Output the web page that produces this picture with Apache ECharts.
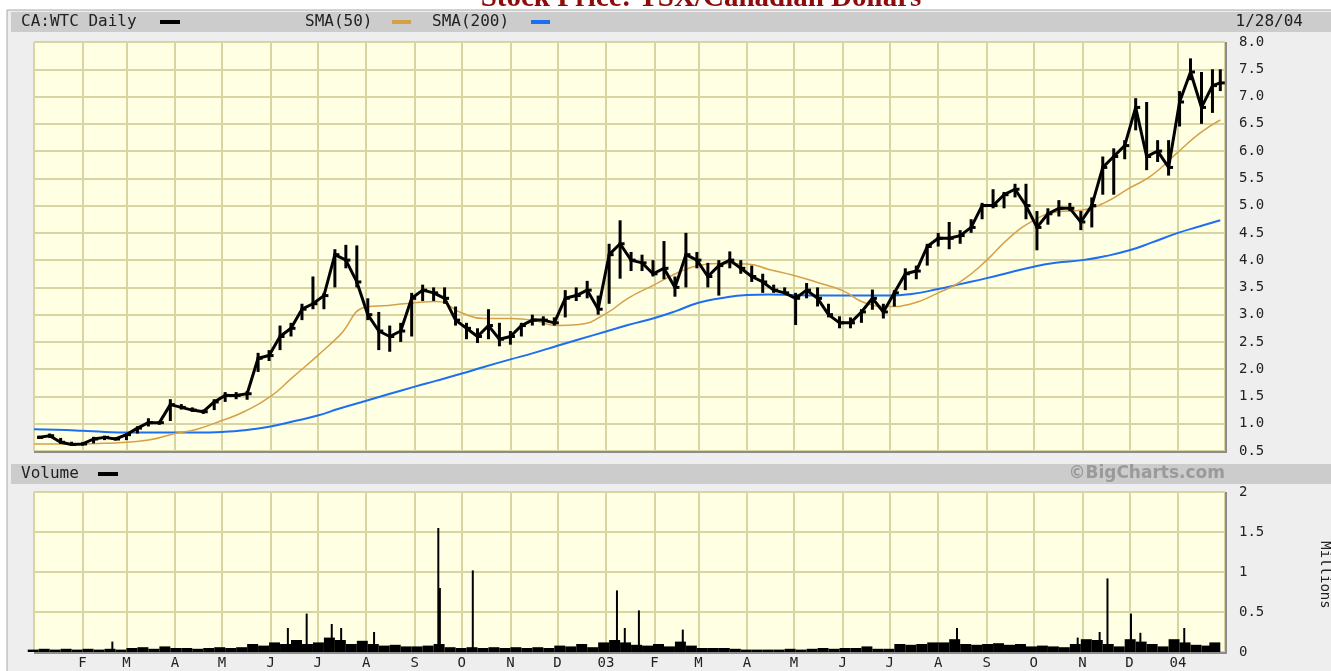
<!DOCTYPE html>
<html>
<head>
<meta charset="UTF-8">
<title>CA:WTC Daily</title>
<script src="https://cdn.jsdelivr.net/npm/echarts@6/dist/echarts.min.js"></script>
<style>
html, body { margin: 0; padding: 0; background: #fff; }
#main { width: 1331px; height: 671px; }
</style>
</head>
<body>
<div id="main"></div>
<script type="text/javascript">
// weekly price bars (week ending Fridays from 2002-01-04, last one is the part week to 1/28/04)
var firstWeek = [2002, 0, 4];
var lastDay = [2004, 0, 28];
var weekHigh = [
  0.78, 0.82, 0.74, 0.67, 0.66, 0.76, 0.78, 0.75, 0.82, 0.95, 1.10, 1.05, 1.45,
  1.36, 1.30, 1.26, 1.45, 1.58, 1.58, 1.60, 2.30, 2.35, 2.80, 2.85, 3.20, 3.70,
  3.40, 4.20, 4.28, 4.27, 3.30, 3.05, 2.80, 2.85, 3.40, 3.55, 3.50, 3.50, 3.15,
  2.85, 2.75, 3.10, 2.85, 2.70, 2.85, 3.00, 2.97, 2.95, 3.45, 3.50, 3.62, 3.35,
  4.30, 4.73, 4.15, 4.10, 4.00, 4.35, 3.70, 4.50, 4.15, 3.95, 4.00, 4.16, 4.00,
  3.90, 3.75, 3.55, 3.50, 3.40, 3.58, 3.50, 3.20, 2.97, 2.95, 3.10, 3.46, 3.20,
  3.45, 3.85, 3.90, 4.30, 4.50, 4.70, 4.55, 4.75, 5.05, 5.30, 5.25, 5.40, 5.40,
  4.90, 4.95, 5.10, 5.05, 4.90, 5.15, 5.90, 6.05, 6.20, 6.97, 6.90, 6.20, 6.20,
  7.10, 7.70, 7.45, 7.50, 7.50
];
var weekLow = [
  0.72, 0.74, 0.64, 0.60, 0.60, 0.64, 0.70, 0.70, 0.70, 0.82, 0.95, 0.98, 1.05,
  1.26, 1.22, 1.18, 1.25, 1.40, 1.45, 1.44, 1.95, 2.15, 2.35, 2.60, 2.90, 3.10,
  3.10, 3.50, 3.85, 3.50, 2.90, 2.35, 2.32, 2.50, 2.60, 3.25, 3.25, 3.20, 2.80,
  2.55, 2.48, 2.55, 2.42, 2.45, 2.60, 2.80, 2.80, 2.80, 2.95, 3.25, 3.30, 3.00,
  3.20, 3.66, 3.80, 3.80, 3.70, 3.65, 3.33, 3.50, 3.85, 3.50, 3.35, 3.85, 3.75,
  3.60, 3.40, 3.40, 3.38, 2.81, 3.30, 3.15, 2.95, 2.75, 2.75, 2.85, 3.09, 2.93,
  3.15, 3.45, 3.65, 3.90, 4.25, 4.20, 4.30, 4.50, 4.75, 4.95, 4.95, 5.15, 4.75,
  4.18, 4.65, 4.80, 4.90, 4.55, 4.60, 5.20, 5.20, 5.85, 6.38, 5.65, 5.80, 5.55,
  6.45, 7.30, 6.50, 6.70, 7.10
];
var weekClose = [
  0.75, 0.78, 0.66, 0.62, 0.63, 0.72, 0.75, 0.72, 0.80, 0.92, 1.02, 1.02, 1.35,
  1.30, 1.25, 1.22, 1.40, 1.52, 1.52, 1.55, 2.20, 2.25, 2.60, 2.75, 3.10, 3.20,
  3.35, 4.10, 4.00, 3.60, 3.00, 2.70, 2.60, 2.70, 3.30, 3.45, 3.40, 3.30, 2.90,
  2.75, 2.60, 2.80, 2.55, 2.60, 2.80, 2.90, 2.90, 2.85, 3.30, 3.35, 3.45, 3.10,
  4.10, 4.30, 4.00, 3.95, 3.75, 3.85, 3.50, 4.10, 4.00, 3.70, 3.90, 4.00, 3.85,
  3.70, 3.60, 3.45, 3.40, 3.30, 3.45, 3.30, 3.00, 2.85, 2.85, 3.05, 3.30, 3.05,
  3.40, 3.75, 3.80, 4.25, 4.40, 4.40, 4.45, 4.60, 5.00, 5.00, 5.20, 5.30, 5.00,
  4.60, 4.85, 4.95, 4.95, 4.70, 5.00, 5.70, 5.90, 6.10, 6.80, 5.90, 6.00, 5.70,
  6.90, 7.45, 6.80, 7.20, 7.25
];
// typical daily volume within each week, millions
var weekVolume = [
  0.03, 0.04, 0.03, 0.04, 0.03, 0.04, 0.03, 0.04, 0.03, 0.05, 0.06, 0.04, 0.07,
  0.05, 0.05, 0.04, 0.05, 0.06, 0.05, 0.06, 0.10, 0.08, 0.12, 0.10, 0.15, 0.10,
  0.12, 0.18, 0.15, 0.10, 0.14, 0.10, 0.08, 0.09, 0.07, 0.07, 0.08, 0.10, 0.06,
  0.05, 0.06, 0.05, 0.06, 0.05, 0.06, 0.05, 0.06, 0.05, 0.08, 0.07, 0.10, 0.06,
  0.12, 0.15, 0.12, 0.09, 0.08, 0.10, 0.07, 0.13, 0.08, 0.05, 0.05, 0.05, 0.04,
  0.03, 0.03, 0.03, 0.03, 0.04, 0.03, 0.04, 0.05, 0.04, 0.05, 0.05, 0.07, 0.04,
  0.04, 0.10, 0.09, 0.10, 0.12, 0.12, 0.16, 0.10, 0.09, 0.10, 0.11, 0.09, 0.10,
  0.07, 0.08, 0.07, 0.06, 0.10, 0.16, 0.15, 0.10, 0.07, 0.16, 0.13, 0.10, 0.07,
  0.16, 0.12, 0.09, 0.08, 0.12
];
// single heavy days
var spikeDates = [
  '2002-02-20', '2002-06-12', '2002-06-24', '2002-07-10', '2002-07-16', '2002-08-06',
  '2002-09-16', '2002-09-17', '2002-10-08', '2003-01-08', '2003-01-13', '2003-01-22',
  '2003-02-19', '2003-08-13', '2003-10-29', '2003-11-12', '2003-11-17', '2003-12-02',
  '2003-12-08', '2004-01-05'
];
var spikeVolume = [
  0.13, 0.30, 0.48, 0.35, 0.30, 0.25,
  1.55, 0.80, 1.02, 0.77, 0.30, 0.52,
  0.28, 0.30, 0.18, 0.25, 0.92, 0.48,
  0.24, 0.30
];
// moving averages sampled on the 1st and 15th of each month, then 1/28/04
var sma50 = [
  0.63, 0.63, 0.63, 0.64, 0.66, 0.70, 0.82, 0.90, 1.06, 1.22, 1.50, 1.85,
  2.25, 2.62, 3.14, 3.17, 3.22, 3.24, 3.03, 2.93, 2.93, 2.90, 2.80, 2.82,
  3.02, 3.30, 3.55, 3.76, 3.90, 3.94, 3.93, 3.83, 3.72, 3.60, 3.44, 3.22,
  3.15, 3.20, 3.40, 3.60, 4.00, 4.40, 4.73, 4.88, 4.92, 5.05, 5.32, 5.55,
  5.98, 6.33, 6.57
];
var sma200 = [
  0.90, 0.89, 0.87, 0.85, 0.84, 0.84, 0.84, 0.84, 0.85, 0.88, 0.95, 1.04,
  1.15, 1.28, 1.42, 1.54, 1.68, 1.79, 1.92, 2.04, 2.18, 2.29, 2.43, 2.55,
  2.69, 2.81, 2.94, 3.07, 3.22, 3.30, 3.36, 3.37, 3.36, 3.35, 3.35, 3.35,
  3.35, 3.38, 3.47, 3.56, 3.67, 3.77, 3.88, 3.95, 4.00, 4.07, 4.18, 4.32,
  4.50, 4.62, 4.73
];
var monthLetters = ['J', 'F', 'M', 'A', 'M', 'J', 'J', 'A', 'S', 'O', 'N', 'D'];
var yearLabels = {2003: '03', 2004: '04'};

var DAY = 86400000;
var weekDates = [];
for (var i = 0; i < weekClose.length; i++) {
  weekDates.push(+new Date(firstWeek[0], firstWeek[1], firstWeek[2] + 7 * i));
}
weekDates[weekDates.length - 1] = +new Date(lastDay[0], lastDay[1], lastDay[2]);

var smaDates = [];
for (var m = 0; m < 25; m++) {
  smaDates.push(+new Date(2002, m, 1));
  smaDates.push(+new Date(2002, m, 15));
}
smaDates.push(+new Date(lastDay[0], lastDay[1], lastDay[2]));

var barData = weekDates.map(function (t, i) { return [t, weekHigh[i], weekLow[i], weekClose[i]]; });
var closeData = weekDates.map(function (t, i) { return [t, weekClose[i]]; });
var volData = weekDates.map(function (t, i) { return [t, weekVolume[i]]; });
var spikeData = spikeDates.map(function (s, i) { return [s, spikeVolume[i]]; });
var sma50Data = smaDates.map(function (t, i) { return [t, sma50[i]]; });
var sma200Data = smaDates.map(function (t, i) { return [t, sma200[i]]; });

var FONT = '"DejaVu Sans Mono", monospace';
var gridColor = '#d8d5a2';
var plotBg = '#ffffe3';

var myChart = echarts.init(document.getElementById('main'));

function xAxisFor(idx, showLabels) {
  return {
    type: 'time', gridIndex: idx,
    min: +new Date(2002, 0, 1), max: +new Date(2004, 0, 31),
    splitNumber: 25,
    axisLine: { show: false }, axisTick: { show: false },
    splitLine: { show: true, lineStyle: { color: gridColor, width: 2 } },
    axisLabel: {
      show: showLabels, margin: 4,
      fontFamily: FONT, fontSize: 14, color: '#222',
      formatter: function (v) {
        var d = new Date(v);
        if (d.getMonth() === 0) return yearLabels[d.getFullYear()] || '';
        return monthLetters[d.getMonth()];
      }
    }
  };
}

var option = {
  backgroundColor: '#ffffff',
  animation: false,
  grid: [
    { left: 34, top: 42, width: 1191, height: 409, show: true, backgroundColor: plotBg, borderWidth: 0 },
    { left: 34, top: 492, width: 1191, height: 160, show: true, backgroundColor: plotBg, borderWidth: 0 }
  ],
  xAxis: [xAxisFor(0, false), xAxisFor(1, true)],
  yAxis: [
    {
      type: 'value', gridIndex: 0, position: 'right', min: 0.5, max: 8, interval: 0.5,
      axisLine: { show: false }, axisTick: { show: false },
      splitLine: { lineStyle: { color: gridColor, width: 2 } },
      axisLabel: { margin: 14, fontFamily: FONT, fontSize: 14, color: '#222',
        formatter: function (v) { return v.toFixed(1); } }
    },
    {
      type: 'value', gridIndex: 1, position: 'right', min: 0, max: 2, interval: 0.5,
      axisLine: { show: false }, axisTick: { show: false },
      splitLine: { lineStyle: { color: gridColor, width: 2 } },
      axisLabel: { margin: 14, fontFamily: FONT, fontSize: 14, color: '#222' }
    }
  ],
  series: [
    {
      name: 'SMA(200)', type: 'line', xAxisIndex: 0, yAxisIndex: 0, data: sma200Data,
      smooth: true, symbol: 'none', lineStyle: { color: '#1e6ff0', width: 2 }, z: 3
    },
    {
      name: 'SMA(50)', type: 'line', xAxisIndex: 0, yAxisIndex: 0, data: sma50Data,
      smooth: true, symbol: 'none', lineStyle: { color: '#d6a04a', width: 1.5 }, z: 3
    },
    {
      // high-low bar with a close tick for each week
      name: 'range', type: 'custom', xAxisIndex: 0, yAxisIndex: 0, data: barData, z: 4,
      renderItem: function (params, api) {
        var hi = api.coord([api.value(0), api.value(1)]);
        var lo = api.coord([api.value(0), api.value(2)]);
        var cl = api.coord([api.value(0), api.value(3)]);
        return { type: 'group', children: [
          { type: 'rect', shape: { x: hi[0] - 1.5, y: hi[1], width: 3, height: lo[1] - hi[1] },
            style: { fill: '#000' } },
          { type: 'rect', shape: { x: cl[0] - 1.5, y: cl[1] - 1.5, width: 6, height: 3 },
            style: { fill: '#000' } }
        ] };
      }
    },
    {
      name: 'CA:WTC Daily', type: 'line', xAxisIndex: 0, yAxisIndex: 0, data: closeData,
      symbol: 'none', lineStyle: { color: '#000', width: 3 }, z: 5
    },
    {
      name: 'Volume', type: 'custom', xAxisIndex: 1, yAxisIndex: 1, data: volData, z: 4,
      renderItem: function (params, api) {
        var top = api.coord([api.value(0), api.value(1)]);
        var base = api.coord([api.value(0), 0]);
        var w = api.size([7 * DAY, 0])[0];
        return { type: 'rect', shape: { x: top[0] - w, y: top[1], width: w, height: base[1] - top[1] },
          style: { fill: '#000' } };
      }
    },
    {
      name: 'Spikes', type: 'custom', xAxisIndex: 1, yAxisIndex: 1, data: spikeData, z: 4,
      renderItem: function (params, api) {
        var top = api.coord([api.value(0), api.value(1)]);
        var base = api.coord([api.value(0), 0]);
        return { type: 'rect', shape: { x: top[0] - 1, y: top[1], width: 2, height: base[1] - top[1] },
          style: { fill: '#000' } };
      }
    }
  ],
  graphic: [
    { type: 'text', x: 701, y: -16, z: 1,
      style: { text: 'Stock Price: TSX/Canadian Dollars', font: 'bold 29px "Liberation Serif", serif', fill: '#8e0b0b', align: 'center' } },
    { type: 'rect', shape: { x: 7, y: 10, width: 1330, height: 670 }, z: -10,
      style: { fill: '#eeeeee', stroke: '#a8a8a8', lineWidth: 1 } },
    { type: 'rect', shape: { x: 11, y: 12, width: 1320, height: 20 }, z: -9, style: { fill: '#cccccc' } },
    { type: 'rect', shape: { x: 11, y: 464, width: 1320, height: 20 }, z: -9, style: { fill: '#cccccc' } },
    // plot frame shadows
    { type: 'polyline', shape: { points: [[34, 452], [1226, 452], [1226, 42]] }, z: 10,
      style: { stroke: '#8c8c8c', lineWidth: 2, fill: null } },
    { type: 'polyline', shape: { points: [[34, 653], [1226, 653], [1226, 492]] }, z: 10,
      style: { stroke: '#8c8c8c', lineWidth: 2, fill: null } },
    // header texts and keys
    { type: 'text', x: 21, y: 22, z: 20, style: { text: 'CA:WTC Daily', font: '16px ' + FONT, fill: '#222', verticalAlign: 'middle' } },
    { type: 'rect', shape: { x: 160, y: 20, width: 20, height: 4 }, z: 20, style: { fill: '#000' } },
    { type: 'text', x: 305, y: 22, z: 20, style: { text: 'SMA(50)', font: '16px ' + FONT, fill: '#222', verticalAlign: 'middle' } },
    { type: 'rect', shape: { x: 392, y: 20, width: 19, height: 4 }, z: 20, style: { fill: '#d6a04a' } },
    { type: 'text', x: 432, y: 22, z: 20, style: { text: 'SMA(200)', font: '16px ' + FONT, fill: '#222', verticalAlign: 'middle' } },
    { type: 'rect', shape: { x: 531, y: 20, width: 19, height: 4 }, z: 20, style: { fill: '#1e6ff0' } },
    { type: 'text', x: 1303, y: 22, z: 20, style: { text: '1/28/04', font: '16px ' + FONT, fill: '#222', align: 'right', verticalAlign: 'middle' } },
    { type: 'text', x: 21, y: 474, z: 20, style: { text: 'Volume', font: '16px ' + FONT, fill: '#222', verticalAlign: 'middle' } },
    { type: 'rect', shape: { x: 98, y: 472, width: 20, height: 4 }, z: 20, style: { fill: '#000' } },
    { type: 'text', x: 1225, y: 474, z: 20, style: { text: '\u00a9BigCharts.com', font: 'bold 17px "DejaVu Sans", sans-serif', fill: '#9a9a9a', align: 'right', verticalAlign: 'middle' } },
    { type: 'text', x: 1325, y: 575, rotation: -Math.PI / 2, z: 20,
      style: { text: 'Millions', font: '14px ' + FONT, fill: '#222', align: 'center', verticalAlign: 'middle' } }
  ]
};
myChart.setOption(option);
</script>
</body>
</html>
